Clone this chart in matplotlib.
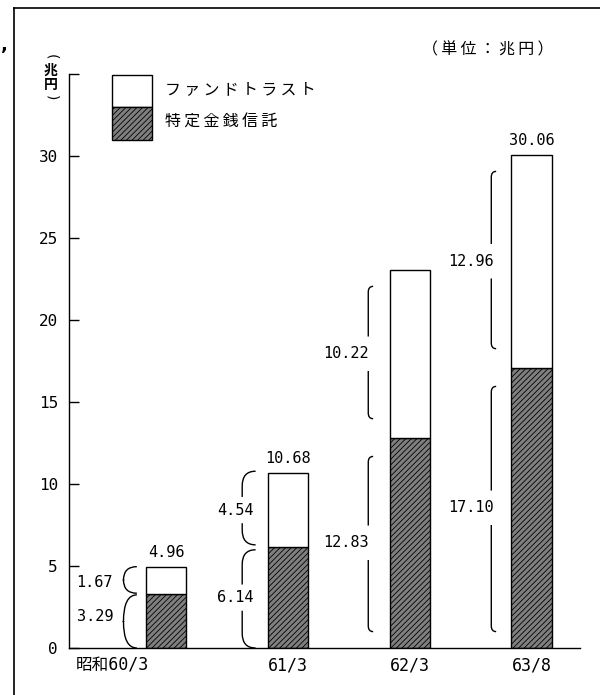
import matplotlib
matplotlib.use("Agg")
import matplotlib.pyplot as plt
from matplotlib.patches import Rectangle, PathPatch
from matplotlib.path import Path
from matplotlib.lines import Line2D

# data (兆円)
categories = ["昭和60/3", "61/3", "62/3", "63/8"]
tokutei = [3.29, 6.14, 12.83, 17.10]      # 特定金銭信託
fund = [1.67, 4.54, 10.22, 12.96]         # ファンドトラスト
totals = [4.96, 10.68, None, 30.06]       # printed totals (62/3 has none)
yticks = [0, 5, 10, 15, 20, 25, 30, 35]
ytick_labels = ["0", "5", "10", "15", "20", "25", "30", ""]

JP = ["Noto Sans CJK JP", "DejaVu Sans"]
NUM = ["DejaVu Sans Mono", "Noto Sans CJK JP"]
HATCH_FC = "#7f7f7f"
plt.rcParams["hatch.linewidth"] = 0.6


def spaced(s):
    return "\u2009".join(s)


def bracket(ax, x, y0, y1, w, r, gap=None):
    """'(' shaped bracket from y0 to y1, ends hooked to the right."""
    if gap is None:
        verts = [(x + w, y1), (x, y1), (x, y1 - r), (x, y0 + r), (x, y0), (x + w, y0)]
        codes = [Path.MOVETO, Path.CURVE3, Path.CURVE3, Path.LINETO, Path.CURVE3, Path.CURVE3]
        paths = [Path(verts, codes)]
    else:
        g0, g1 = gap
        paths = [
            Path([(x + w, y1), (x, y1), (x, y1 - r), (x, g1)],
                 [Path.MOVETO, Path.CURVE3, Path.CURVE3, Path.LINETO]),
            Path([(x, g0), (x, y0 + r), (x, y0), (x + w, y0)],
                 [Path.MOVETO, Path.LINETO, Path.CURVE3, Path.CURVE3]),
        ]
    for p in paths:
        ax.add_patch(PathPatch(p, facecolor="none", edgecolor="black", lw=1.0))


fig = plt.figure(figsize=(6.0, 6.95), dpi=100)
ax = fig.add_axes([0.115, 0.0676, 0.852, 0.826])

xpos = list(range(len(categories)))
bw = 0.33
ax.bar(xpos, tokutei, width=bw, facecolor=HATCH_FC, edgecolor="black",
       hatch="//////", lw=1.0)
ax.bar(xpos, fund, width=bw, bottom=tokutei, facecolor="white",
       edgecolor="black", lw=1.0)

for x, t in zip(xpos, totals):
    if t is None:
        continue
    ax.annotate(f"{t:.2f}", (x, t), xytext=(0, 5), textcoords="offset points",
                ha="center", va="bottom", fontsize=11, family=NUM)

# 昭和60/3: small round braces, labels to the left
xb, w = -0.35, 0.11
bracket(ax, xb, tokutei[0] + 0.05, tokutei[0] + fund[0], w, fund[0] / 2)
bracket(ax, xb, 0.0, tokutei[0] - 0.05, w, tokutei[0] / 2)
ax.text(-0.585, tokutei[0] + fund[0] / 2 - 0.15, f"{fund[0]:.2f}", ha="center",
        va="center", fontsize=11, family=NUM)
ax.text(-0.585, tokutei[0] / 2 + 0.3, f"{tokutei[0]:.2f}", ha="center",
        va="center", fontsize=11, family=NUM)

# 61/3 onwards: brackets with the label sitting in a gap
layout = [
    # (bar index, line x, hook w, radius, label x, inset, gap half)
    (1, 0.625, 0.11, 0.9, 0.57, 0.0, 0.8),
    (2, 1.66, 0.04, 0.35, 1.48, 1.0, 1.05),
    (3, 2.67, 0.04, 0.35, 2.50, 1.0, 1.05),
]
for i, lx, hw, r, tx, inset, gh in layout:
    segs = [(0.0, tokutei[i], tokutei[i]),
            (tokutei[i], tokutei[i] + fund[i], fund[i])]
    for k, (lo, hi, val) in enumerate(segs):
        y0 = lo + inset + (0.15 if k == 1 else 0.0)
        y1 = hi - inset - (0.15 if k == 0 else -0.1 * (inset == 0))
        mid = (lo + hi) / 2
        bracket(ax, lx, y0, y1, hw, r, gap=(mid - gh, mid + gh))
        ax.text(tx, mid, f"{val:.2f}", ha="center", va="center",
                fontsize=11, family=NUM)

ax.set_xlim(-0.797, 3.40)
ax.set_ylim(0, 35)
ax.set_yticks(yticks)
ax.set_yticklabels(ytick_labels, family=NUM, fontsize=11.5)
ax.tick_params(axis="y", direction="in", length=7, width=1.0, pad=8)
ax.set_xticks([-0.44, 1, 2, 3])
ax.set_xticklabels(categories, family=NUM, fontsize=12)
ax.tick_params(axis="x", length=0, pad=6)
for s in ["top", "right"]:
    ax.spines[s].set_visible(False)
for s in ["left", "bottom"]:
    ax.spines[s].set_linewidth(1.0)

# legend
fig.add_artist(Rectangle((0.1867, 0.846), 0.0667, 0.046, transform=fig.transFigure,
                         facecolor="white", edgecolor="black", lw=1.0))
fig.add_artist(Rectangle((0.1867, 0.7986), 0.0667, 0.0474, transform=fig.transFigure,
                         facecolor=HATCH_FC, edgecolor="black", hatch="//////", lw=1.0))
fig.text(0.275, 0.871, spaced("ファンドトラスト"), family=JP, fontsize=11.5,
         ha="left", va="center")
fig.text(0.275, 0.824, spaced("特定金銭信託"), family=JP, fontsize=11.5,
         ha="left", va="center")

# unit notes
fig.text(0.813, 0.928, spaced("（単位：兆円）"), family=JP, fontsize=11.5,
         ha="center", va="center")
ylab_x = 0.085
fig.text(ylab_x, 0.918, "(", rotation=-90, fontsize=10, ha="center", va="center")
fig.text(ylab_x, 0.898, "兆", family=JP, fontsize=10, fontweight="bold",
         ha="center", va="center")
fig.text(ylab_x, 0.878, "円", family=JP, fontsize=10, fontweight="bold",
         ha="center", va="center")
fig.text(ylab_x, 0.859, ")", rotation=-90, fontsize=10, ha="center", va="center")

# scan frame
fig.add_artist(Line2D([0.023, 0.023], [0.0, 0.988], transform=fig.transFigure,
                      color="black", lw=1.2))
fig.add_artist(Line2D([0.023, 1.0], [0.988, 0.988], transform=fig.transFigure,
                      color="black", lw=1.2))
fig.text(0.008, 0.935, ",", fontsize=13, fontweight="bold", ha="center", va="center")

fig.savefig("out.png", dpi=100, facecolor="white")
